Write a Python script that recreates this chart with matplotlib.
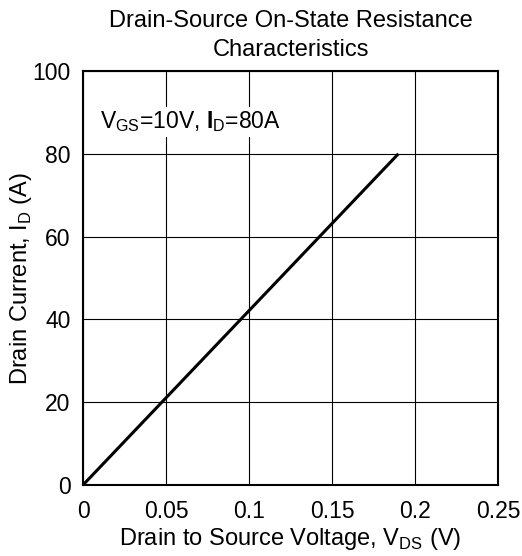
import numpy as np
import matplotlib.pyplot as plt

plt.rcParams['font.family'] = ['Liberation Sans', 'DejaVu Sans']
plt.rcParams['mathtext.fontset'] = 'custom'
plt.rcParams['mathtext.rm'] = 'Liberation Sans'
plt.rcParams['mathtext.bf'] = 'Liberation Sans:bold'

# data
vds = [0.0, 0.19]
i_d = [0.0, 80.0]
x_ticks = [0, 0.05, 0.1, 0.15, 0.2, 0.25]
x_tick_labels = ['0', '0.05', '0.1', '0.15', '0.2', '0.25']
y_ticks = [0, 20, 40, 60, 80, 100]

fig = plt.figure(figsize=(5.22, 5.56), dpi=100)
ax = fig.add_axes([83 / 522, 1 - 485 / 556, 415 / 522, 414 / 556])

ax.plot(vds, i_d, color='black', lw=2.2, solid_capstyle='butt', zorder=3)

ax.set_xlim(0, 0.25)
ax.set_ylim(0, 100)
ax.set_xticks(x_ticks)
ax.set_xticklabels(x_tick_labels)
ax.set_yticks(y_ticks)
ax.tick_params(direction='in', length=0, labelsize=16.5)
ax.tick_params(axis='x', pad=11)
ax.tick_params(axis='y', pad=9)
ax.grid(True, color='black', lw=0.8)
for s in ax.spines.values():
    s.set_linewidth(1.5)

ax.set_xlabel(r'Drain to Source Voltage, V$_{\mathregular{DS}}$ (V)', fontsize=17, labelpad=2)
ax.set_ylabel(r'Drain Current, I$_{\mathregular{D}}$ (A)', fontsize=17, labelpad=-1)
ax.set_title('Drain-Source On-State Resistance\nCharacteristics', fontsize=17, pad=11, linespacing=1.4)

ax.text(0.010, 87.7, r'V$_{\mathregular{GS}}$=10V, $\mathbf{I}$$_{\mathregular{D}}$=80A', fontsize=16.5,
        va='center', ha='left', zorder=4,
        bbox=dict(facecolor='white', edgecolor='none', pad=2))

fig.savefig('out.png', dpi=100)
